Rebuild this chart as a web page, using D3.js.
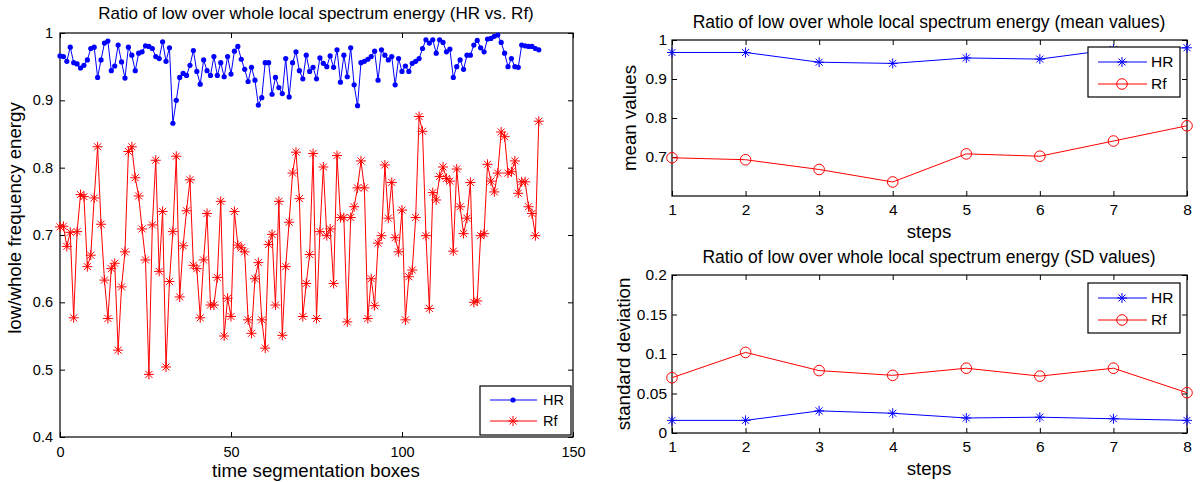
<!DOCTYPE html>
<html>
<head>
<meta charset="utf-8">
<script src="https://cdn.jsdelivr.net/npm/d3@7"></script>
<style>
  body { margin: 0; background: #fff; }
  svg { display: block; font-family: "Liberation Sans", Arial, Helvetica, sans-serif; }
  .axis path { display: none; }
  .axis line { stroke: #000; stroke-width: 1; }
  .axis text { fill: #000; }
</style>
</head>
<body>
<script>
// data

// left plot: one value per time segmentation box (0..140)
var boxes = d3.range(0, 141);
var hrRatio = [
  0.966, 0.965, 0.958, 0.979, 0.956, 0.954, 0.948, 0.952, 0.960, 0.977,
  0.979, 0.934, 0.960, 0.985, 0.988, 0.944, 0.951, 0.982, 0.957, 0.933,
  0.979, 0.967, 0.944, 0.970, 0.972, 0.981, 0.980, 0.977, 0.965, 0.962,
  0.987, 0.958, 0.978, 0.866, 0.900, 0.934, 0.940, 0.937, 0.952, 0.974,
  0.943, 0.924, 0.960, 0.944, 0.937, 0.965, 0.937, 0.956, 0.935, 0.965,
  0.939, 0.973, 0.980, 0.961, 0.946, 0.928, 0.949, 0.930, 0.893, 0.904,
  0.956, 0.956, 0.909, 0.934, 0.919, 0.910, 0.962, 0.905, 0.956, 0.972,
  0.944, 0.932, 0.967, 0.943, 0.949, 0.932, 0.963, 0.955, 0.950, 0.966,
  0.949, 0.975, 0.927, 0.967, 0.935, 0.978, 0.923, 0.892, 0.956, 0.958,
  0.961, 0.965, 0.973, 0.930, 0.975, 0.967, 0.960, 0.965, 0.923, 0.962,
  0.943, 0.951, 0.943, 0.955, 0.958, 0.962, 0.977, 0.990, 0.985, 0.990,
  0.970, 0.990, 0.986, 0.972, 0.976, 0.934, 0.950, 0.960, 0.946, 0.967,
  0.967, 0.982, 0.989, 0.978, 0.972, 0.991, 0.992, 0.995, 0.997, 0.986,
  0.970, 0.950, 0.962, 0.950, 0.949, 0.982, 0.981, 0.980, 0.980, 0.977,
  0.975
];
var rfRatio = [
  0.712, 0.713, 0.683, 0.704, 0.577, 0.705, 0.760, 0.757, 0.653, 0.670,
  0.755, 0.831, 0.716, 0.633, 0.576, 0.650, 0.658, 0.529, 0.623, 0.675,
  0.824, 0.831, 0.785, 0.758, 0.709, 0.663, 0.493, 0.715, 0.811, 0.646,
  0.735, 0.504, 0.631, 0.705, 0.817, 0.608, 0.684, 0.736, 0.782, 0.655,
  0.650, 0.577, 0.663, 0.732, 0.596, 0.596, 0.637, 0.750, 0.550, 0.606,
  0.579, 0.735, 0.685, 0.681, 0.675, 0.574, 0.554, 0.635, 0.659, 0.574,
  0.532, 0.686, 0.701, 0.596, 0.750, 0.551, 0.653, 0.719, 0.792, 0.823,
  0.754, 0.579, 0.628, 0.671, 0.821, 0.576, 0.705, 0.801, 0.699, 0.709,
  0.628, 0.818, 0.726, 0.726, 0.571, 0.726, 0.742, 0.770, 0.810, 0.770,
  0.576, 0.635, 0.595, 0.688, 0.699, 0.804, 0.725, 0.778, 0.696, 0.675,
  0.737, 0.574, 0.638, 0.648, 0.726, 0.876, 0.854, 0.699, 0.591, 0.763,
  0.752, 0.787, 0.801, 0.784, 0.780, 0.676, 0.798, 0.742, 0.702, 0.725,
  0.778, 0.600, 0.602, 0.699, 0.702, 0.805, 0.780, 0.764, 0.792, 0.853,
  0.846, 0.792, 0.794, 0.810, 0.762, 0.779, 0.779, 0.742, 0.732, 0.699,
  0.869
];
var leftXTicks = [0, 50, 100, 150];
var leftYTicks = [0.4, 0.5, 0.6, 0.7, 0.8, 0.9, 1];

// right plots: one value per step
var steps = [1, 2, 3, 4, 5, 6, 7, 8];
var meanHR = [0.968, 0.968, 0.943, 0.940, 0.954, 0.951, 0.976, 0.980];
var meanRf = [0.698, 0.693, 0.668, 0.636, 0.708, 0.702, 0.741, 0.780];
var sdHR = [0.016, 0.016, 0.028, 0.025, 0.019, 0.020, 0.018, 0.016];
var sdRf = [0.070, 0.102, 0.079, 0.073, 0.082, 0.072, 0.082, 0.051];
var meanYTicks = [0.7, 0.8, 0.9, 1];
var sdYTicks = [0, 0.05, 0.1, 0.15, 0.2];

var blue = "#0000ff";
var red = "#ff0000";

// asterisk marker, matlab style
function star(h) {
  var k = h * 0.7;
  return "M" + (-h) + ",0H" + h + "M0," + (-h) + "V" + h +
    "M" + (-k) + "," + (-k) + "L" + k + "," + k +
    "M" + (-k) + "," + k + "L" + k + "," + (-k);
}

var svg = d3.select("body")
  .append("svg")
  .attr("width", 1200)
  .attr("height", 482);

// draws box, inward ticks on all four sides
function drawFrame(g, x, y, xTicks, yTicks, xPad, yPad, fontSize) {
  var x0 = x.range()[0], x1 = x.range()[1];
  var y0 = y.range()[0], y1 = y.range()[1];
  var fmt = d3.format("~g");

  g.append("g").attr("class", "axis")
    .attr("transform", "translate(0," + y0 + ")")
    .call(d3.axisBottom(x).tickValues(xTicks).tickSizeInner(-5).tickSizeOuter(0).tickPadding(xPad).tickFormat(fmt))
    .selectAll("text").style("font-size", fontSize + "px");
  g.append("g").attr("class", "axis")
    .attr("transform", "translate(0," + y1 + ")")
    .call(d3.axisTop(x).tickValues(xTicks).tickSizeInner(-5).tickSizeOuter(0).tickFormat(""));
  g.append("g").attr("class", "axis")
    .attr("transform", "translate(" + x0 + ",0)")
    .call(d3.axisLeft(y).tickValues(yTicks).tickSizeInner(-5).tickSizeOuter(0).tickPadding(yPad).tickFormat(fmt))
    .selectAll("text").style("font-size", fontSize + "px");
  g.append("g").attr("class", "axis")
    .attr("transform", "translate(" + x1 + ",0)")
    .call(d3.axisRight(y).tickValues(yTicks).tickSizeInner(-5).tickSizeOuter(0).tickFormat(""));

  g.append("rect")
    .attr("x", x0).attr("y", y1)
    .attr("width", x1 - x0).attr("height", y0 - y1)
    .attr("fill", "none").attr("stroke", "#000").attr("stroke-width", 1.2);
}

// ---------- left plot ----------
var left = svg.append("g");
var xL = d3.scaleLinear().domain([0, 150]).range([60, 573]);
var yL = d3.scaleLinear().domain([0.4, 1]).range([437, 33]);

drawFrame(left, xL, yL, leftXTicks, leftYTicks, 10, 7, 14.5);

var lineL = d3.line()
  .x(function(d, i) { return xL(boxes[i]); })
  .y(function(d) { return yL(d); });

left.append("path").datum(rfRatio)
  .attr("d", lineL).attr("fill", "none").attr("stroke", red).attr("stroke-width", 1);
left.selectAll(".rfstar").data(rfRatio).enter()
  .append("path")
  .attr("class", "rfstar")
  .attr("d", star(5))
  .attr("transform", function(d, i) { return "translate(" + xL(boxes[i]) + "," + yL(d) + ")"; })
  .attr("stroke", red).attr("stroke-width", 1).attr("fill", "none");

left.append("path").datum(hrRatio)
  .attr("d", lineL).attr("fill", "none").attr("stroke", blue).attr("stroke-width", 1);
left.selectAll(".hrdot").data(hrRatio).enter()
  .append("circle")
  .attr("class", "hrdot")
  .attr("cx", function(d, i) { return xL(boxes[i]); })
  .attr("cy", function(d) { return yL(d); })
  .attr("r", 2.6)
  .attr("fill", blue);

// titles and labels
left.append("text")
  .attr("x", 316).attr("y", 19)
  .style("text-anchor", "middle").style("font-size", "17px")
  .text("Ratio of low over whole local spectrum energy (HR vs. Rf)");
left.append("text")
  .attr("x", 316).attr("y", 477)
  .style("text-anchor", "middle").style("font-size", "18.7px")
  .text("time segmentation boxes");
left.append("text")
  .attr("transform", "translate(21,218) rotate(-90)")
  .style("text-anchor", "middle").style("font-size", "18.7px")
  .text("low/whole frequency energy");

// legend
left.append("rect")
  .attr("x", 480).attr("y", 386).attr("width", 91).attr("height", 49)
  .attr("fill", "#fff").attr("stroke", "#000").attr("stroke-width", 1.2);
left.append("line")
  .attr("x1", 490).attr("x2", 537).attr("y1", 400).attr("y2", 400)
  .attr("stroke", blue);
left.append("circle")
  .attr("cx", 513).attr("cy", 400).attr("r", 2.6).attr("fill", blue);
left.append("line")
  .attr("x1", 490).attr("x2", 537).attr("y1", 421).attr("y2", 421)
  .attr("stroke", red);
left.append("path")
  .attr("d", star(5)).attr("transform", "translate(513,421)")
  .attr("stroke", red).attr("fill", "none");
left.append("text").attr("x", 543).attr("y", 405).style("font-size", "14.5px").text("HR");
left.append("text").attr("x", 543).attr("y", 426).style("font-size", "14.5px").text("Rf");

// ---------- right plots ----------
function drawSmall(top, bottom, yDomain, yTicks, hr, rf, title, yLabel, labelX, legTop) {
  var g = svg.append("g");
  var x = d3.scaleLinear().domain([1, 8]).range([672, 1187]);
  var y = d3.scaleLinear().domain(yDomain).range([bottom, top]);

  drawFrame(g, x, y, steps, yTicks, 8, 5, 15.5);

  var line = d3.line()
    .x(function(d, i) { return x(steps[i]); })
    .y(function(d) { return y(d); });

  g.append("path").datum(hr)
    .attr("d", line).attr("fill", "none").attr("stroke", blue);
  g.selectAll(".hrstar").data(hr).enter()
    .append("path")
    .attr("class", "hrstar")
    .attr("d", star(5))
    .attr("transform", function(d, i) { return "translate(" + x(steps[i]) + "," + y(d) + ")"; })
    .attr("stroke", blue).attr("fill", "none");

  g.append("path").datum(rf)
    .attr("d", line).attr("fill", "none").attr("stroke", red);
  g.selectAll(".rfcirc").data(rf).enter()
    .append("circle")
    .attr("class", "rfcirc")
    .attr("cx", function(d, i) { return x(steps[i]); })
    .attr("cy", function(d) { return y(d); })
    .attr("r", 5.3)
    .attr("stroke", red).attr("fill", "none");

  g.append("text")
    .attr("x", 929).attr("y", top - 12)
    .style("text-anchor", "middle").style("font-size", "17.5px")
    .text(title);
  g.append("text")
    .attr("x", 929).attr("y", bottom + 42)
    .style("text-anchor", "middle").style("font-size", "18.7px")
    .text("steps");
  g.append("text")
    .attr("transform", "translate(" + labelX + "," + ((top + bottom) / 2) + ") rotate(-90)")
    .style("text-anchor", "middle").style("font-size", "18.7px")
    .text(yLabel);

  // legend
  g.append("rect")
    .attr("x", 1088).attr("y", legTop).attr("width", 92).attr("height", 50)
    .attr("fill", "#fff").attr("stroke", "#000").attr("stroke-width", 1.2);
  g.append("line")
    .attr("x1", 1098).attr("x2", 1147).attr("y1", legTop + 15).attr("y2", legTop + 15)
    .attr("stroke", blue);
  g.append("path")
    .attr("d", star(5)).attr("transform", "translate(1122," + (legTop + 15) + ")")
    .attr("stroke", blue).attr("fill", "none");
  g.append("line")
    .attr("x1", 1098).attr("x2", 1147).attr("y1", legTop + 37).attr("y2", legTop + 37)
    .attr("stroke", red);
  g.append("circle")
    .attr("cx", 1122).attr("cy", legTop + 37).attr("r", 5.3)
    .attr("stroke", red).attr("fill", "none");
  g.append("text").attr("x", 1151).attr("y", legTop + 20).style("font-size", "15.5px").text("HR");
  g.append("text").attr("x", 1151).attr("y", legTop + 42).style("font-size", "15.5px").text("Rf");
}

drawSmall(40, 196, [0.6, 1], meanYTicks, meanHR, meanRf,
  "Ratio of low over whole local spectrum energy (mean values)", "mean values", 636, 47);
drawSmall(275, 433, [0, 0.2], sdYTicks, sdHR, sdRf,
  "Ratio of low over whole local spectrum energy (SD values)", "standard deviation", 630, 283);
</script>
</body>
</html>
